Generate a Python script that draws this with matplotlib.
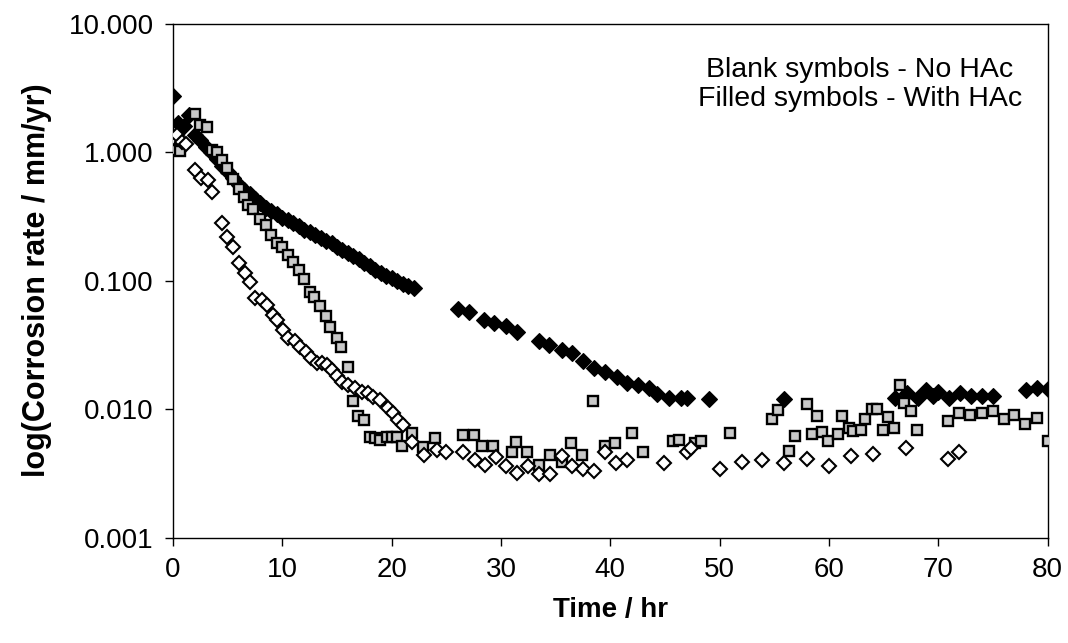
import matplotlib
matplotlib.use("Agg")
import matplotlib.pyplot as plt
from matplotlib.ticker import FixedLocator, FixedFormatter, NullLocator

plt.rcParams['font.family'] = ['Liberation Sans', 'DejaVu Sans']

# Filled diamonds (With HAc)
fd_t = [0, 0.5, 1.0, 1.5, 2.0, 2.5, 3.0, 3.5, 4.0, 4.5, 5.0, 5.5, 6.0, 6.5, 7.0, 7.5,
        8.0, 8.5, 9.0, 9.5, 10.0, 10.5, 11.0, 11.5, 12.0, 12.5, 13.0, 13.5, 14.0, 14.5,
        15.0, 15.5, 16.0, 16.5, 17.0, 17.5, 18.0, 18.5, 19.0, 19.5, 20.0, 20.5, 21.0,
        21.5, 22.0, 26.1, 27.1, 28.4, 29.4, 30.5, 31.5, 33.5, 34.4, 35.6, 36.5, 37.5,
        38.5, 39.5, 40.6, 41.5, 42.5, 43.5, 44.3, 45.4, 46.5, 47.0, 49.0, 55.9, 66.0,
        67.1, 68.1, 68.9, 69.5, 70.0, 71.0, 72.0, 73.0, 74.0, 75.0, 78.0, 79.0, 80.0]
fd_v = [2.75, 1.7, 1.6, 1.95, 1.35, 1.25, 1.1, 1.0, 0.88, 0.78, 0.70, 0.63, 0.56, 0.51,
        0.47, 0.43, 0.40, 0.37, 0.35, 0.33, 0.31, 0.295, 0.28, 0.265, 0.25, 0.24, 0.225,
        0.215, 0.205, 0.195, 0.183, 0.174, 0.165, 0.157, 0.147, 0.138, 0.129, 0.12,
        0.115, 0.109, 0.104, 0.099, 0.095, 0.091, 0.087, 0.060, 0.057, 0.049, 0.047,
        0.0445, 0.040, 0.034, 0.0316, 0.029, 0.0274, 0.0237, 0.021, 0.0195, 0.0178,
        0.016, 0.0155, 0.0146, 0.0132, 0.0122, 0.0122, 0.0122, 0.012, 0.012, 0.0122,
        0.0134, 0.0122, 0.0141, 0.0126, 0.0137, 0.0122, 0.0134, 0.0126, 0.0126, 0.0126,
        0.0141, 0.0145, 0.0143]

# Open diamonds (No HAc)
od_t = [0, 0.4, 0.8, 1.2, 2.0, 2.6, 3.2, 3.6, 4.5, 4.9, 5.5, 6.0, 6.6, 7.0, 7.5, 8.1,
        8.6, 9.1, 9.5, 10.1, 10.5, 11.2, 11.6, 12.2, 12.6, 13.2, 13.6, 14.1, 14.5, 15.0,
        15.5, 16.0, 16.6, 17.3, 17.8, 18.3, 18.9, 19.7, 20.1, 20.6, 21.0, 21.9, 23.0,
        24.1, 25.0, 26.5, 27.6, 28.5, 29.5, 30.5, 31.5, 32.5, 33.5, 34.5, 35.6, 36.5,
        37.5, 38.5, 39.5, 40.5, 41.5, 44.9, 47.0, 47.4, 50.0, 52.0, 53.9, 55.9, 58.0,
        60.0, 62.0, 64.0, 67.0, 70.9, 71.9]
od_v = [1.3, 1.37, 1.2, 1.15, 0.73, 0.63, 0.61, 0.49, 0.28, 0.22, 0.183, 0.138, 0.115,
        0.098, 0.073, 0.071, 0.065, 0.054, 0.049, 0.041, 0.036, 0.034, 0.0306, 0.028,
        0.025, 0.0229, 0.0229, 0.022, 0.0202, 0.0182, 0.0162, 0.0155, 0.0146, 0.0136,
        0.0133, 0.0124, 0.0118, 0.0102, 0.0093, 0.0082, 0.0075, 0.0055, 0.0044, 0.0048,
        0.0046, 0.0046, 0.0040, 0.0037, 0.0042, 0.0036, 0.0032, 0.0036, 0.0031, 0.0031,
        0.0043, 0.0036, 0.0034, 0.0033, 0.0046, 0.0038, 0.0040, 0.0038, 0.0046, 0.0050,
        0.0034, 0.0039, 0.0040, 0.0038, 0.0041, 0.0036, 0.0043, 0.0045, 0.0050, 0.0041,
        0.0046]

# Grey squares
sq_t = [0.0, 0.3, 0.6, 2.0, 2.5, 3.1, 3.6, 4.0, 4.5, 4.9, 5.5, 6.0, 6.5, 6.9, 7.3, 8.0,
        8.5, 9.0, 9.5, 10.0, 10.5, 11.0, 11.5, 12.0, 12.5, 12.9, 13.4, 14.0, 14.4, 15.0,
        15.4, 16.0, 16.5, 16.9, 17.5, 18.0, 18.5, 18.9, 19.6, 20.0, 20.5, 20.9, 21.9,
        22.9, 24.0, 26.5, 27.5, 28.3, 29.3, 31.0, 31.4, 32.4, 33.5, 34.5, 35.6, 36.4,
        37.4, 38.4, 39.5, 40.4, 42.0, 43.0, 45.7, 46.3, 47.7, 48.3, 50.9, 54.8, 55.3,
        56.3, 56.9, 58.0, 58.4, 58.9, 59.4, 59.9, 60.8, 61.2, 61.8, 62.2, 62.9, 63.3,
        63.9, 64.4, 64.9, 65.4, 65.9, 66.5, 66.9, 67.5, 68.0, 70.9, 71.9, 72.9, 74.0,
        75.0, 76.0, 76.9, 77.9, 79.0, 80.0]
sq_v = [1.05, 1.3, 1.02, 2.0, 1.63, 1.58, 1.04, 1.0, 0.87, 0.76, 0.62, 0.52, 0.45, 0.39,
        0.36, 0.30, 0.27, 0.227, 0.197, 0.183, 0.158, 0.14, 0.12, 0.103, 0.082, 0.075,
        0.064, 0.053, 0.0437, 0.036, 0.0305, 0.0214, 0.0116, 0.0089, 0.0082, 0.0061,
        0.0060, 0.0057, 0.0061, 0.0061, 0.0061, 0.0052, 0.0065, 0.0051, 0.0060, 0.0063,
        0.0063, 0.0052, 0.0052, 0.0046, 0.0055, 0.0046, 0.0037, 0.0044, 0.0039, 0.0054,
        0.0044, 0.0116, 0.0052, 0.0054, 0.0065, 0.0046, 0.0056, 0.0057, 0.0054, 0.0056,
        0.0065, 0.0084, 0.0099, 0.0047, 0.0062, 0.011, 0.0064, 0.0089, 0.0066, 0.0056,
        0.0064, 0.0089, 0.0071, 0.0068, 0.0069, 0.0084, 0.0100, 0.0100, 0.0069, 0.0087,
        0.0071, 0.0155, 0.0112, 0.0096, 0.0069, 0.0081, 0.0093, 0.0090, 0.0093, 0.0097,
        0.0084, 0.0090, 0.0077, 0.0085, 0.0056]

y_ticks = [0.001, 0.01, 0.1, 1, 10]
y_labels = ["0.001", "0.010", "0.100", "1.000", "10.000"]
x_ticks = [0, 10, 20, 30, 40, 50, 60, 70, 80]

fig = plt.figure(figsize=(10.68, 6.43), dpi=100)
ax = fig.add_axes([0.162, 0.164, 0.819, 0.799])

ax.plot(fd_t, fd_v, linestyle='none', marker='D', markersize=7.8,
        markerfacecolor='black', markeredgecolor='black', markeredgewidth=0.8, zorder=3)
ax.plot(sq_t, sq_v, linestyle='none', marker='s', markersize=7.3,
        markerfacecolor='#c9c9c9', markeredgecolor='black', markeredgewidth=1.7, zorder=4)
ax.plot(od_t, od_v, linestyle='none', marker='D', markersize=7,
        markerfacecolor='white', markeredgecolor='black', markeredgewidth=1.5, zorder=5)

ax.set_yscale('log')
ax.set_ylim(0.001, 10)
ax.set_xlim(0, 80)
ax.yaxis.set_major_locator(FixedLocator(y_ticks))
ax.yaxis.set_major_formatter(FixedFormatter(y_labels))
ax.yaxis.set_minor_locator(NullLocator())
ax.set_xticks(x_ticks)
ax.set_xticklabels([str(t) for t in x_ticks])

for s in ax.spines.values():
    s.set_linewidth(1.0)
    s.set_color('black')
ax.tick_params(axis='both', which='major', direction='out', length=6, width=1,
               labelsize=20, pad=8)

ax.set_xlabel('Time / hr', fontsize=20, fontweight='bold', labelpad=10)
ax.set_ylabel('log(Corrosion rate / mm/yr)', fontsize=22, fontweight='bold', labelpad=12)

ax.text(0.785, 0.935, 'Blank symbols - No HAc\nFilled symbols - With HAc',
        transform=ax.transAxes, ha='center', va='top', fontsize=20.5, linespacing=1.15)

fig.savefig('out.png', dpi=100)
